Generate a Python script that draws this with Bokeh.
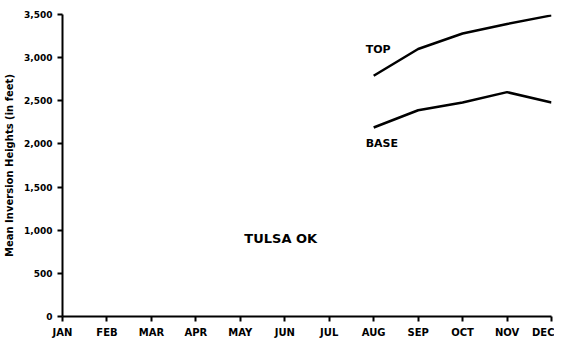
from bokeh.plotting import figure
from bokeh.models import Range1d, FixedTicker, Label
from bokeh.embed import file_html
from bokeh.resources import INLINE

months = ["JAN", "FEB", "MAR", "APR", "MAY", "JUN", "JUL", "AUG", "SEP", "OCT", "NOV", "DEC"]
line_months = [7, 8, 9, 10, 11]
top_heights = [2790, 3100, 3280, 3390, 3490]
base_heights = [2190, 2390, 2480, 2600, 2480]
y_ticks = [0, 500, 1000, 1500, 2000, 2500, 3000, 3500]
y_tick_labels = ["0", "500", "1,000", "1,500", "2,000", "2,500", "3,000", "3,500"]

FONT = "DejaVu Sans"

p = figure(width=548, height=336, output_backend="svg", toolbar_location=None,
           x_range=Range1d(0, 11), y_range=Range1d(0, 3500),
           frame_width=489, frame_height=302,
           min_border_left=62, min_border_top=14, min_border_right=3, min_border_bottom=10)
p.outline_line_color = None
p.xgrid.visible = False
p.ygrid.visible = False

p.line(line_months, top_heights, line_color="black", line_width=2.5)
p.line(line_months, base_heights, line_color="black", line_width=2.5)

p.xaxis.ticker = FixedTicker(ticks=list(range(12)))
p.xaxis.major_label_overrides = {i: m for i, m in enumerate(months)}
p.yaxis.ticker = FixedTicker(ticks=y_ticks)
p.yaxis.major_label_overrides = {t: l for t, l in zip(y_ticks, y_tick_labels)}
for ax in (p.xaxis[0], p.yaxis[0]):
    ax.axis_line_width = 2
    ax.axis_line_color = "black"
    ax.major_tick_line_width = 2
    ax.major_tick_line_color = "black"
    ax.major_tick_out = 5
    ax.major_tick_in = 0
    ax.minor_tick_line_color = None
    ax.major_label_text_font = FONT
    ax.major_label_text_font_style = "bold"
    ax.major_label_text_color = "black"
p.xaxis.major_label_text_font_size = "10px"
p.yaxis.major_label_text_font_size = "9px"
p.yaxis.axis_label = "Mean Inversion Heights (in feet)"
p.yaxis.axis_label_text_font = FONT
p.yaxis.axis_label_text_font_style = "bold"
p.yaxis.axis_label_text_font_size = "10px"
p.yaxis.axis_label_text_color = "black"
p.yaxis.axis_label_standoff = 6

for x, y, t, fs, dx in [(7.0, 3100, "TOP", "11px", -8), (7.0, 2000, "BASE", "11px", -8),
                        (4.0, 900, "TULSA OK", "13px", 4)]:
    p.add_layout(Label(x=x, y=y, text=t, text_font=FONT, text_font_style="bold",
                       text_font_size=fs, text_color="black",
                       text_align="left", text_baseline="middle", x_offset=dx))

open("out.html", "w").write(file_html(p, INLINE))
